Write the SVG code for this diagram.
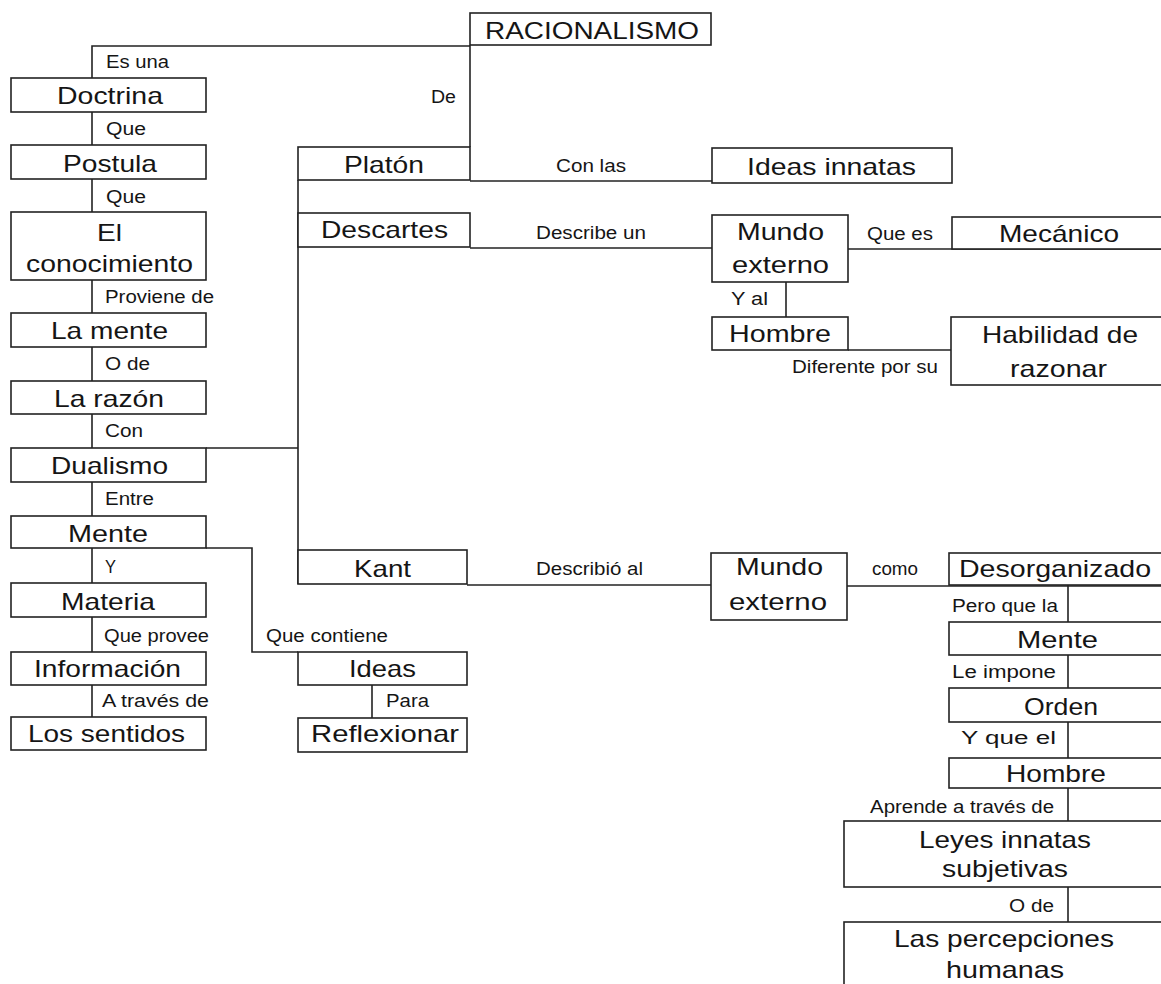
<svg xmlns="http://www.w3.org/2000/svg" width="1161" height="984" viewBox="0 0 1161 984">
<style>
.box{fill:#fff;stroke:#222;stroke-width:1.6}
.ln{fill:none;stroke:#222;stroke-width:1.6}
.n{font-family:"Liberation Sans",Arial,sans-serif;font-size:24px;fill:#151515}
.l{font-family:"Liberation Sans",Arial,sans-serif;font-size:17.5px;fill:#151515}
</style>
<rect width="1161" height="984" fill="#fff"/>
<g id="connectors">
<path class="ln" d="M470,46 H92 V78"/>
<path class="ln" d="M470,45 V147"/>
<path class="ln" d="M92,112 V145 M92,179 V212 M92,280 V313 M92,347 V381 M92,414 V448 M92,482 V516 M92,548 V583 M92,617 V652 M92,685 V717"/>
<path class="ln" d="M206,448 H298 M298,180 V584"/>
<path class="ln" d="M206,548 H252 V652 H298"/>
<path class="ln" d="M372,685 V718"/>
<path class="ln" d="M470,181 H712"/>
<path class="ln" d="M470,248 H712"/>
<path class="ln" d="M848,249 H1170"/>
<path class="ln" d="M786,282 V317"/>
<path class="ln" d="M848,350 H951"/>
<path class="ln" d="M467,585 H711"/>
<path class="ln" d="M847,586 H1170"/>
<path class="ln" d="M1068,585 V622 M1068,655 V688 M1068,722 V758 M1068,788 V821 M1068,887 V922"/>
</g>
<g id="racionalismo"><rect class="box" x="470" y="13" width="241" height="32"/><text class="n" x="485" y="39" textLength="214" lengthAdjust="spacingAndGlyphs">RACIONALISMO</text></g>
<g id="doctrina"><rect class="box" x="11" y="78" width="195" height="34"/><text class="n" x="57" y="104" textLength="106" lengthAdjust="spacingAndGlyphs">Doctrina</text></g>
<g id="postula"><rect class="box" x="11" y="145" width="195" height="34"/><text class="n" x="63" y="172" textLength="94" lengthAdjust="spacingAndGlyphs">Postula</text></g>
<g id="conocimiento"><rect class="box" x="11" y="212" width="195" height="68"/><text class="n" x="97" y="241" textLength="25" lengthAdjust="spacingAndGlyphs">El</text><text class="n" x="26" y="272" textLength="167" lengthAdjust="spacingAndGlyphs">conocimiento</text></g>
<g id="la-mente"><rect class="box" x="11" y="313" width="195" height="34"/><text class="n" x="51" y="339" textLength="117" lengthAdjust="spacingAndGlyphs">La mente</text></g>
<g id="la-razon"><rect class="box" x="11" y="381" width="195" height="33"/><text class="n" x="54" y="407" textLength="110" lengthAdjust="spacingAndGlyphs">La razón</text></g>
<g id="dualismo"><rect class="box" x="11" y="448" width="195" height="34"/><text class="n" x="51" y="474" textLength="117" lengthAdjust="spacingAndGlyphs">Dualismo</text></g>
<g id="mente"><rect class="box" x="11" y="516" width="195" height="32"/><text class="n" x="68" y="542" textLength="80" lengthAdjust="spacingAndGlyphs">Mente</text></g>
<g id="materia"><rect class="box" x="11" y="583" width="195" height="34"/><text class="n" x="61" y="610" textLength="94" lengthAdjust="spacingAndGlyphs">Materia</text></g>
<g id="informacion"><rect class="box" x="11" y="652" width="195" height="33"/><text class="n" x="34" y="677" textLength="147" lengthAdjust="spacingAndGlyphs">Información</text></g>
<g id="sentidos"><rect class="box" x="11" y="717" width="195" height="33"/><text class="n" x="28" y="742" textLength="157" lengthAdjust="spacingAndGlyphs">Los sentidos</text></g>
<g id="platon"><rect class="box" x="298" y="147" width="172" height="33"/><text class="n" x="344" y="173" textLength="80" lengthAdjust="spacingAndGlyphs">Platón</text></g>
<g id="descartes"><rect class="box" x="298" y="213" width="172" height="34"/><text class="n" x="321" y="238" textLength="127" lengthAdjust="spacingAndGlyphs">Descartes</text></g>
<g id="kant"><rect class="box" x="298" y="550" width="169" height="34"/><text class="n" x="354" y="577" textLength="57" lengthAdjust="spacingAndGlyphs">Kant</text></g>
<g id="ideas"><rect class="box" x="298" y="652" width="169" height="33"/><text class="n" x="349" y="677" textLength="67" lengthAdjust="spacingAndGlyphs">Ideas</text></g>
<g id="reflexionar"><rect class="box" x="298" y="718" width="169" height="34"/><text class="n" x="311" y="742" textLength="148" lengthAdjust="spacingAndGlyphs">Reflexionar</text></g>
<g id="ideas-innatas"><rect class="box" x="712" y="148" width="240" height="35"/><text class="n" x="747" y="175" textLength="169" lengthAdjust="spacingAndGlyphs">Ideas innatas</text></g>
<g id="mundo-externo-1"><rect class="box" x="712" y="215" width="136" height="67"/><text class="n" x="737" y="240" textLength="87" lengthAdjust="spacingAndGlyphs">Mundo</text><text class="n" x="732" y="273" textLength="97" lengthAdjust="spacingAndGlyphs">externo</text></g>
<g id="mecanico"><rect class="box" x="952" y="217" width="215" height="32"/><text class="n" x="999" y="242" textLength="120" lengthAdjust="spacingAndGlyphs">Mecánico</text></g>
<g id="hombre-1"><rect class="box" x="712" y="317" width="136" height="33"/><text class="n" x="729" y="342" textLength="102" lengthAdjust="spacingAndGlyphs">Hombre</text></g>
<g id="habilidad"><rect class="box" x="951" y="317" width="215" height="68"/><text class="n" x="982" y="343" textLength="156" lengthAdjust="spacingAndGlyphs">Habilidad de</text><text class="n" x="1010" y="377" textLength="97" lengthAdjust="spacingAndGlyphs">razonar</text></g>
<g id="mundo-externo-2"><rect class="box" x="711" y="553" width="136" height="67"/><text class="n" x="736" y="575" textLength="87" lengthAdjust="spacingAndGlyphs">Mundo</text><text class="n" x="729" y="610" textLength="98" lengthAdjust="spacingAndGlyphs">externo</text></g>
<g id="desorganizado"><rect class="box" x="949" y="553" width="215" height="32"/><text class="n" x="959" y="577" textLength="192" lengthAdjust="spacingAndGlyphs">Desorganizado</text></g>
<g id="mente-2"><rect class="box" x="949" y="622" width="215" height="33"/><text class="n" x="1017" y="648" textLength="81" lengthAdjust="spacingAndGlyphs">Mente</text></g>
<g id="orden"><rect class="box" x="949" y="688" width="215" height="34"/><text class="n" x="1024" y="715" textLength="74" lengthAdjust="spacingAndGlyphs">Orden</text></g>
<g id="hombre-2"><rect class="box" x="949" y="758" width="215" height="30"/><text class="n" x="1006" y="782" textLength="100" lengthAdjust="spacingAndGlyphs">Hombre</text></g>
<g id="leyes"><rect class="box" x="844" y="821" width="320" height="66"/><text class="n" x="919" y="848" textLength="172" lengthAdjust="spacingAndGlyphs">Leyes innatas</text><text class="n" x="942" y="877" textLength="126" lengthAdjust="spacingAndGlyphs">subjetivas</text></g>
<g id="percepciones"><rect class="box" x="844" y="922" width="320" height="70"/><text class="n" x="894" y="947" textLength="220" lengthAdjust="spacingAndGlyphs">Las percepciones</text><text class="n" x="946" y="978" textLength="118" lengthAdjust="spacingAndGlyphs">humanas</text></g>
<g id="labels">
<text class="l" x="106" y="68" textLength="63" lengthAdjust="spacingAndGlyphs">Es una</text>
<text class="l" x="431" y="103" textLength="25" lengthAdjust="spacingAndGlyphs">De</text>
<text class="l" x="106" y="135" textLength="40" lengthAdjust="spacingAndGlyphs">Que</text>
<text class="l" x="106" y="203" textLength="40" lengthAdjust="spacingAndGlyphs">Que</text>
<text class="l" x="105" y="303" textLength="109" lengthAdjust="spacingAndGlyphs">Proviene de</text>
<text class="l" x="105" y="370" textLength="45" lengthAdjust="spacingAndGlyphs">O de</text>
<text class="l" x="105" y="437" textLength="38" lengthAdjust="spacingAndGlyphs">Con</text>
<text class="l" x="105" y="505" textLength="49" lengthAdjust="spacingAndGlyphs">Entre</text>
<text class="l" x="105" y="573" textLength="11" lengthAdjust="spacingAndGlyphs">Y</text>
<text class="l" x="104" y="642" textLength="105" lengthAdjust="spacingAndGlyphs">Que provee</text>
<text class="l" x="266" y="642" textLength="122" lengthAdjust="spacingAndGlyphs">Que contiene</text>
<text class="l" x="102" y="707" textLength="107" lengthAdjust="spacingAndGlyphs">A través de</text>
<text class="l" x="386" y="707" textLength="43" lengthAdjust="spacingAndGlyphs">Para</text>
<text class="l" x="556" y="172" textLength="70" lengthAdjust="spacingAndGlyphs">Con las</text>
<text class="l" x="536" y="239" textLength="110" lengthAdjust="spacingAndGlyphs">Describe un</text>
<text class="l" x="867" y="240" textLength="66" lengthAdjust="spacingAndGlyphs">Que es</text>
<text class="l" x="731" y="305" textLength="37" lengthAdjust="spacingAndGlyphs">Y al</text>
<text class="l" x="792" y="373" textLength="146" lengthAdjust="spacingAndGlyphs">Diferente por su</text>
<text class="l" x="536" y="575" textLength="107" lengthAdjust="spacingAndGlyphs">Describió al</text>
<text class="l" x="872" y="575" textLength="46" lengthAdjust="spacingAndGlyphs">como</text>
<text class="l" x="952" y="612" textLength="106" lengthAdjust="spacingAndGlyphs">Pero que la</text>
<text class="l" x="952" y="678" textLength="104" lengthAdjust="spacingAndGlyphs">Le impone</text>
<text class="l" x="961" y="744" textLength="95" lengthAdjust="spacingAndGlyphs">Y que el</text>
<text class="l" x="870" y="813" textLength="184" lengthAdjust="spacingAndGlyphs">Aprende a través de</text>
<text class="l" x="1009" y="912" textLength="45" lengthAdjust="spacingAndGlyphs">O de</text>
</g>
</svg>
